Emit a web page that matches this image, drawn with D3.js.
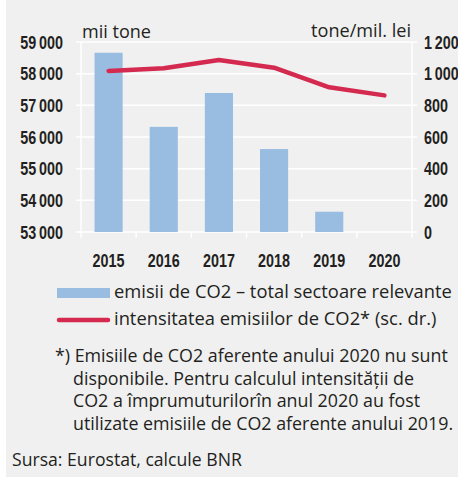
<!DOCTYPE html>
<html>
<head>
<meta charset="utf-8">
<script src="https://cdn.jsdelivr.net/npm/d3@7"></script>
<style>
  body { margin: 0; background: #fff; }
  svg { display: block; }
  .txt { font-family: "Open Sans", "Noto Sans", sans-serif; fill: #231f20; }
  .num { font-family: "Liberation Sans", Arial, sans-serif; font-weight: bold; fill: #231f20; }
</style>
</head>
<body>
<svg id="chart" width="458" height="477"></svg>
<script>
// data
var years = ["2015", "2016", "2017", "2018", "2019", "2020"];
var emissions = [58660, 56320, 57390, 55620, 53640, null];   // mii tone
var intensity = [1017, 1034, 1086, 1038, 914, 863];          // tone/mil. lei
var leftTicks = [53000, 54000, 55000, 56000, 57000, 58000, 59000];
var rightTicks = [0, 200, 400, 600, 800, 1000, 1200];
var legendLabels = ["emisii de CO2 \u2013 total sectoare relevante", "intensitatea emisiilor de CO2* (sc. dr.)"];
var noteLines = [
  "*) Emisiile de CO2 aferente anului 2020 nu sunt",
  "disponibile. Pentru calculul intensit\u0103\u021bii de",
  "CO2 a \u00eemprumuturilor\u00een anul 2020 au fost",
  "utilizate emisiile de CO2 aferente anului 2019."
];
var source = "Sursa: Eurostat, calcule BNR";

var barColor = "#99bde1", lineColor = "#d42a50", gridColor = "#ffffff";
var narrow = 0.82;   // squeeze for the condensed number font

var svg = d3.select("#chart");
var W = 458, H = 477;

svg.append("rect").attr("x", 6).attr("y", 0).attr("width", W - 6).attr("height", H).attr("fill", "#f0f0f0");

var plot = { left: 81, right: 412, top: 42, bottom: 232 };

var x = d3.scaleBand().domain(years)
  .range([plot.left, plot.right])
  .paddingInner(0.49).paddingOuter(0.245);
var yL = d3.scaleLinear().domain([53000, 59000]).range([plot.bottom, plot.top]);
var yR = d3.scaleLinear().domain([0, 1200]).range([plot.bottom, plot.top]);

var fmt = d3.formatLocale({ decimal: ",", thousands: "\u2009", grouping: [3], currency: ["", ""] }).format(",d");

// size a text block so its first line spans the given width
function fitSize(sel, width) {
  sel.style("font-size", "20px");
  var w = sel.node().getComputedTextLength();
  var size = 20 * width / w;
  sel.style("font-size", size + "px");
  return size;
}

// grid
var grid = svg.append("g");
grid.selectAll("line.h").data(leftTicks).enter().append("line")
  .attr("x1", plot.left - 5).attr("x2", plot.right + 5)
  .attr("y1", function (d) { return yL(d); }).attr("y2", function (d) { return yL(d); })
  .attr("stroke", gridColor).attr("stroke-width", 1.5);
var step = x.step();
var bounds = d3.range(years.length + 1).map(function (i) { return plot.left + i * step; });
grid.selectAll("line.v").data(bounds).enter().append("line")
  .attr("x1", function (d) { return d; }).attr("x2", function (d) { return d; })
  .attr("y1", function (d, i) { return (i === 0 || i === years.length) ? plot.top : plot.bottom; })
  .attr("y2", plot.bottom + 6)
  .attr("stroke", gridColor).attr("stroke-width", 1.5);

// bars
svg.append("g").selectAll("rect").data(years.filter(function (d, i) { return emissions[i] != null; }))
  .enter().append("rect")
  .attr("x", function (d) { return x(d); })
  .attr("width", x.bandwidth())
  .attr("y", function (d) { return yL(emissions[years.indexOf(d)]); })
  .attr("height", function (d) { return plot.bottom - yL(emissions[years.indexOf(d)]); })
  .attr("fill", barColor);

// line
var line = d3.line()
  .x(function (d, i) { return x(years[i]) + x.bandwidth() / 2; })
  .y(function (d) { return yR(d); });
svg.append("path").datum(intensity)
  .attr("d", line)
  .attr("fill", "none").attr("stroke", lineColor)
  .attr("stroke-width", 4.5).attr("stroke-linejoin", "round").attr("stroke-linecap", "round");

// axes
var axL = svg.append("g").attr("transform", "translate(63,0)")
  .call(d3.axisLeft(yL).tickValues(leftTicks).tickFormat(fmt).tickSize(0).tickPadding(0));
var axR = svg.append("g").attr("transform", "translate(424,0)")
  .call(d3.axisRight(yR).tickValues(rightTicks).tickFormat(fmt).tickSize(0).tickPadding(0));
var axB = svg.append("g").attr("transform", "translate(0,267)")
  .call(d3.axisBottom(x).tickSize(0).tickPadding(0));
[axL, axR, axB].forEach(function (a) {
  a.select(".domain").remove();
  a.selectAll("text").attr("class", "num")
    .attr("font-family", null).attr("font-size", null)
    .style("font-size", "17.5px").attr("dy", "0.36em")
    .attr("transform", "scale(" + narrow + ",1)");
});
axB.selectAll("text").attr("y", 0).attr("dy", 0);

// unit labels
var u1 = svg.append("text").attr("class", "txt").attr("x", 82).attr("y", 38).text("mii tone");
fitSize(u1, 69);
var u2 = svg.append("text").attr("class", "txt").attr("x", 411).attr("y", 37).attr("text-anchor", "end").text("tone/mil. lei");
fitSize(u2, 100);

// legend
var lg = svg.append("g");
lg.append("rect").attr("x", 57).attr("y", 288).attr("width", 53).attr("height", 10).attr("fill", barColor);
lg.append("line").attr("x1", 59).attr("x2", 108).attr("y1", 320).attr("y2", 320)
  .attr("stroke", lineColor).attr("stroke-width", 4.5).attr("stroke-linecap", "round");
var lgText = lg.selectAll("text").data(legendLabels).enter().append("text")
  .attr("class", "txt").attr("x", 114)
  .attr("y", function (d, i) { return 298 + i * 27; })
  .text(function (d) { return d; });
var lgSize = fitSize(d3.select(lgText.nodes()[0]), 338);
lgText.style("font-size", lgSize + "px");

// footnote
var notes = svg.append("g").selectAll("text").data(noteLines).enter().append("text")
  .attr("class", "txt")
  .attr("x", function (d, i) { return i === 0 ? 55 : 73; })
  .attr("y", function (d, i) { return 362 + i * 22.5; })
  .text(function (d) { return d; });
var noteSize = fitSize(d3.select(notes.nodes()[0]), 393);
notes.style("font-size", noteSize + "px");
var src = svg.append("text").attr("class", "txt").attr("x", 12).attr("y", 466).text(source);
fitSize(src, 230);
</script>
</body>
</html>
